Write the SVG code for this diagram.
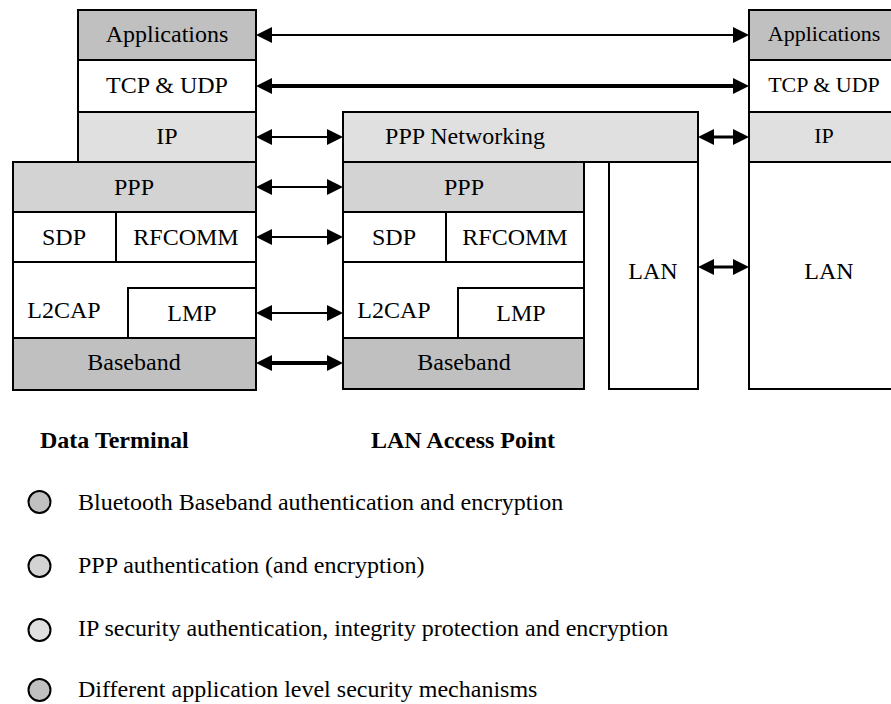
<svg xmlns="http://www.w3.org/2000/svg" width="891" height="704" viewBox="0 0 891 704" font-family="'Liberation Serif', 'Times New Roman', 'DejaVu Serif', serif">
<style>
.b{stroke:#000;stroke-width:2}
.w{fill:#fff}
.d{fill:#c0c0c0}
.m{fill:#d3d3d3}
.l{fill:#e0e0e0}
text{font-family:'Liberation Serif','Times New Roman','DejaVu Serif',serif;font-size:24px;fill:#000}
.c{text-anchor:middle}
.r{font-size:22px}
.h{font-weight:bold}
.a{stroke:#000;fill:none}
.t1{stroke-width:2}
.t2{stroke-width:4}
.t3{stroke-width:3}
</style>
<defs>
<marker id="ah" markerUnits="userSpaceOnUse" markerWidth="16" markerHeight="16" refX="0" refY="7.5" orient="auto-start-reverse" viewBox="0 0 15 15">
<path d="M0,0 L15,7.5 L0,15 Z" fill="#000"/>
</marker>
</defs>
<rect width="891" height="704" fill="#fff"/>

<g id="dt">
<g id="dt-app"><rect x="78" y="10" width="178" height="50" class="b d"/><text x="167" y="42" class="c">Applications</text></g>
<g id="dt-tcp"><rect x="78" y="60" width="178" height="52" class="b w"/><text x="167" y="93" class="c">TCP &amp; UDP</text></g>
<g id="dt-ip"><rect x="78" y="112" width="178" height="50" class="b l"/><text x="167" y="144" class="c">IP</text></g>
<g id="dt-ppp"><rect x="13" y="162" width="243" height="50" class="b m"/><text x="134" y="195" class="c">PPP</text></g>
<g id="dt-sdp"><rect x="13" y="212" width="103" height="50" class="b w"/><text x="64" y="245" class="c">SDP</text></g>
<g id="dt-rfcomm"><rect x="116" y="212" width="140" height="50" class="b w"/><text x="186" y="245" class="c">RFCOMM</text></g>
<g id="dt-l2cap"><rect x="13" y="262" width="243" height="76" class="b w"/><text x="64" y="318" class="c">L2CAP</text></g>
<g id="dt-lmp"><rect x="128" y="288" width="128" height="50" class="b w"/><text x="192" y="321" class="c">LMP</text></g>
<g id="dt-bb"><rect x="13" y="338" width="243" height="52" class="b d"/><text x="134" y="370" class="c">Baseband</text></g>
</g>

<g id="ap">
<g id="ap-pppnet"><rect x="343" y="112" width="355" height="50" class="b l"/><text x="465" y="144" class="c">PPP Networking</text></g>
<g id="ap-ppp"><rect x="343" y="162" width="241" height="50" class="b m"/><text x="464" y="195" class="c">PPP</text></g>
<g id="ap-sdp"><rect x="343" y="212" width="103" height="50" class="b w"/><text x="394" y="245" class="c">SDP</text></g>
<g id="ap-rfcomm"><rect x="446" y="212" width="138" height="50" class="b w"/><text x="515" y="245" class="c">RFCOMM</text></g>
<g id="ap-l2cap"><rect x="343" y="262" width="241" height="76" class="b w"/><text x="394" y="318" class="c">L2CAP</text></g>
<g id="ap-lmp"><rect x="458" y="288" width="126" height="50" class="b w"/><text x="521" y="321" class="c">LMP</text></g>
<g id="ap-bb"><rect x="343" y="338" width="241" height="51" class="b d"/><text x="464" y="370" class="c">Baseband</text></g>
<g id="ap-lan"><rect x="609" y="162" width="89" height="227" class="b w"/><text x="653" y="279" class="c">LAN</text></g>
</g>

<g id="host">
<g id="h-app"><rect x="749" y="10" width="160" height="50" class="b d"/><text x="824" y="41" class="c r">Applications</text></g>
<g id="h-tcp"><rect x="749" y="60" width="160" height="52" class="b w"/><text x="824" y="92" class="c r">TCP &amp; UDP</text></g>
<g id="h-ip"><rect x="749" y="112" width="160" height="50" class="b l"/><text x="824" y="143" class="c r">IP</text></g>
<g id="h-lan"><rect x="749" y="162" width="160" height="227" class="b w"/><text x="829" y="279" class="c">LAN</text></g>
</g>

<g id="connectors">
<line x1="272" y1="35" x2="733" y2="35" class="a t1" marker-start="url(#ah)" marker-end="url(#ah)"/>
<line x1="272" y1="86" x2="733" y2="86" class="a t2" marker-start="url(#ah)" marker-end="url(#ah)"/>
<line x1="272" y1="137" x2="327" y2="137" class="a t1" marker-start="url(#ah)" marker-end="url(#ah)"/>
<line x1="272" y1="187" x2="327" y2="187" class="a t1" marker-start="url(#ah)" marker-end="url(#ah)"/>
<line x1="272" y1="237" x2="327" y2="237" class="a t1" marker-start="url(#ah)" marker-end="url(#ah)"/>
<line x1="272" y1="313" x2="327" y2="313" class="a t1" marker-start="url(#ah)" marker-end="url(#ah)"/>
<line x1="272" y1="363" x2="327" y2="363" class="a t2" marker-start="url(#ah)" marker-end="url(#ah)"/>
<line x1="714" y1="137" x2="733" y2="137" class="a t3" marker-start="url(#ah)" marker-end="url(#ah)"/>
<line x1="714" y1="267" x2="733" y2="267" class="a t3" marker-start="url(#ah)" marker-end="url(#ah)"/>
</g>

<g id="captions">
<text x="40" y="448" class="h">Data Terminal</text>
<text x="371" y="448" class="h">LAN Access Point</text>
</g>

<g id="legend">
<circle cx="39.5" cy="502" r="11" class="b d"/>
<text x="78" y="510">Bluetooth Baseband authentication and encryption</text>
<circle cx="39.5" cy="566" r="11" class="b m"/>
<text x="78" y="573">PPP authentication (and encryption)</text>
<circle cx="39.5" cy="630" r="11" class="b l"/>
<text x="78" y="636">IP security authentication, integrity protection and encryption</text>
<circle cx="39.5" cy="690" r="11" class="b d"/>
<text x="78" y="697">Different application level security mechanisms</text>
</g>
</svg>
